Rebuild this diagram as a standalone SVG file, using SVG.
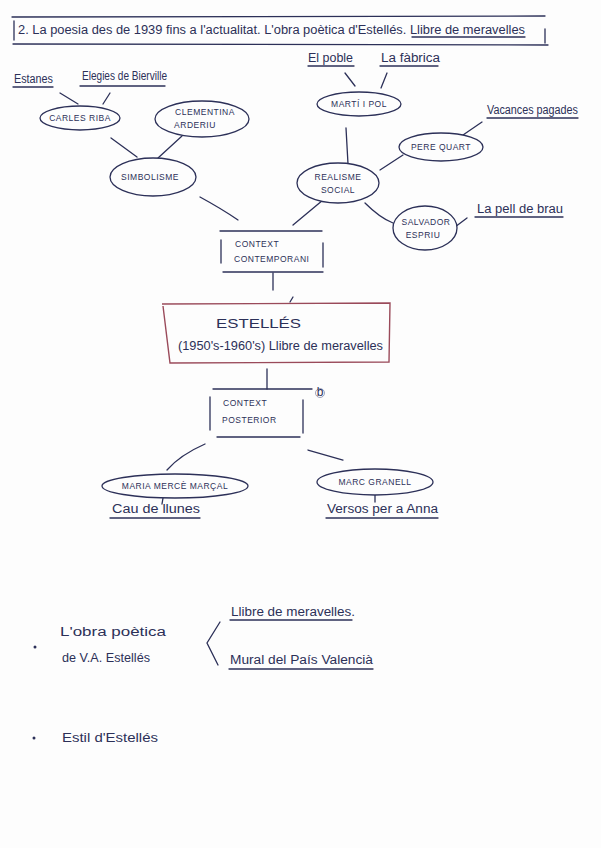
<svg xmlns="http://www.w3.org/2000/svg" width="601" height="848" viewBox="0 0 601 848">
<style>
.ink{fill:none;stroke:#2c3058;stroke-width:1.3;stroke-linecap:round}
.node{fill:#fdfdfd;stroke:#2c3058;stroke-width:1.3}
.t{fill:#2c3058;font-family:"Liberation Sans",Arial,sans-serif;font-size:12px}
.caps{fill:#2c3058;font-family:"Liberation Sans",Arial,sans-serif;font-size:8.5px;letter-spacing:0.5px}
.red{fill:none;stroke:#9a4a5a;stroke-width:1.4}
</style>
<rect width="601" height="848" fill="#fdfdfd"/>
<g id="title">
<line class="ink" x1="12" y1="17" x2="545" y2="16"/>
<line class="ink" x1="13" y1="44" x2="548" y2="45"/>
<line class="ink" x1="14" y1="21" x2="14" y2="40"/>
<line class="ink" x1="545" y1="29" x2="545" y2="43"/>
<text class="t" x="18" y="34" textLength="507" lengthAdjust="spacingAndGlyphs">2. La poesia des de 1939 fins a l'actualitat. L'obra poètica d'Estellés. Llibre de meravelles</text>
<line class="ink" x1="412" y1="37" x2="525" y2="37"/>
</g>
<g id="connectors">
<line class="ink" x1="60" y1="93" x2="78" y2="104"/>
<line class="ink" x1="110" y1="93" x2="103" y2="104"/>
<line class="ink" x1="111" y1="138" x2="137" y2="157"/>
<line class="ink" x1="182" y1="136" x2="158" y2="158"/>
<path class="ink" d="M200 197 Q222 209 238 220"/>
<line class="ink" x1="345" y1="73" x2="355" y2="86"/>
<line class="ink" x1="387" y1="73" x2="381" y2="88"/>
<line class="ink" x1="482" y1="122" x2="463" y2="135"/>
<line class="ink" x1="346" y1="128" x2="348" y2="164"/>
<line class="ink" x1="403" y1="155" x2="380" y2="170"/>
<path class="ink" d="M365 203 Q380 218 393 223"/>
<line class="ink" x1="455" y1="227" x2="467" y2="218"/>
<line class="ink" x1="323" y1="200" x2="293" y2="225"/>
<line class="ink" x1="273" y1="273" x2="273" y2="290"/>
<line class="ink" x1="290" y1="302" x2="293" y2="297"/>
<line class="ink" x1="267" y1="369" x2="267" y2="389"/>
<path class="ink" d="M205 444 Q180 455 167 470"/>
<line class="ink" x1="308" y1="450" x2="343" y2="460"/>
<line class="ink" x1="163" y1="498" x2="162" y2="504"/>
<line class="ink" x1="375" y1="495" x2="375" y2="502"/>
<polyline class="ink" points="220,622 207,643 218,665"/>
</g>
<g id="estanes"><text class="t" x="14" y="83" textLength="39" lengthAdjust="spacingAndGlyphs" font-size="11">Estanes</text><line class="ink" x1="13" y1="87" x2="53" y2="87"/></g>
<g id="elegies"><text class="t" x="82" y="80" textLength="85" lengthAdjust="spacingAndGlyphs" font-size="11">Elegies de Bierville</text><line class="ink" x1="80" y1="86" x2="165" y2="86"/></g>
<g id="carles-riba"><ellipse class="node" cx="80" cy="118" rx="40" ry="12"/><text class="caps" x="80" y="121" text-anchor="middle">CARLES RIBA</text></g>
<g id="clementina"><ellipse class="node" cx="202" cy="119" rx="47" ry="18"/><text class="caps" x="205" y="115" text-anchor="middle">CLEMENTINA</text><text class="caps" x="195" y="128" text-anchor="middle">ARDERIU</text></g>
<g id="simbolisme"><ellipse class="node" cx="153" cy="177" rx="43" ry="19"/><text class="caps" x="150" y="180" text-anchor="middle">SIMBOLISME</text></g>
<g id="el-poble"><text class="t" x="308" y="62" textLength="45" lengthAdjust="spacingAndGlyphs" font-size="11">El poble</text><line class="ink" x1="308" y1="66" x2="354" y2="66"/></g>
<g id="la-fabrica"><text class="t" x="381" y="62" textLength="59" lengthAdjust="spacingAndGlyphs" font-size="11">La fàbrica</text><line class="ink" x1="380" y1="66" x2="438" y2="66"/></g>
<g id="marti-i-pol"><ellipse class="node" cx="359" cy="104" rx="42" ry="12"/><text class="caps" x="359" y="107" text-anchor="middle">MARTÍ I POL</text></g>
<g id="vacances"><text class="t" x="487" y="114" textLength="91" lengthAdjust="spacingAndGlyphs" font-size="11">Vacances pagades</text><line class="ink" x1="487" y1="118" x2="578" y2="118"/></g>
<g id="pere-quart"><ellipse class="node" cx="441" cy="147" rx="42" ry="14"/><text class="caps" x="441" y="150" text-anchor="middle">PERE QUART</text></g>
<g id="realisme"><ellipse class="node" cx="338" cy="183" rx="41" ry="20"/><text class="caps" x="338" y="180" text-anchor="middle">REALISME</text><text class="caps" x="338" y="193" text-anchor="middle">SOCIAL</text></g>
<g id="salvador"><ellipse class="node" cx="425" cy="228" rx="32" ry="22"/><text class="caps" x="426" y="225" text-anchor="middle">SALVADOR</text><text class="caps" x="423" y="238" text-anchor="middle">ESPRIU</text></g>
<g id="pell"><text class="t" x="477" y="213" textLength="86" lengthAdjust="spacingAndGlyphs" font-size="11">La pell de brau</text><line class="ink" x1="475" y1="217" x2="563" y2="217"/></g>
<g id="context-contemporani">
<line class="ink" x1="220" y1="231" x2="322" y2="231"/>
<line class="ink" x1="223" y1="272" x2="323" y2="272"/>
<line class="ink" x1="221" y1="240" x2="221" y2="263"/>
<line class="ink" x1="323" y1="243" x2="323" y2="267"/>
<text class="caps" x="235" y="247">CONTEXT</text>
<text class="caps" x="234" y="262">CONTEMPORANI</text>
</g>
<g id="estelles">
<path class="red" d="M162 304 L390 303 L389 362 L170 363 L163 306"/>
<text class="t" x="216" y="328" font-size="19" textLength="85" lengthAdjust="spacingAndGlyphs">ESTELLÉS</text>
<text class="t" x="178" y="350" font-size="13" textLength="205" lengthAdjust="spacingAndGlyphs">(1950's-1960's) Llibre de meravelles</text>
</g>
<g id="context-posterior">
<line class="ink" x1="213" y1="389" x2="312" y2="389"/>
<line class="ink" x1="217" y1="437" x2="300" y2="437"/>
<line class="ink" x1="210" y1="397" x2="210" y2="430"/>
<line class="ink" x1="303" y1="400" x2="303" y2="433"/>
<text class="caps" x="223" y="406">CONTEXT</text>
<text class="caps" x="222" y="423">POSTERIOR</text>
<circle cx="320" cy="393" r="4.5" fill="none" stroke="#8a8ca8" stroke-width="0.8"/>
<text class="t" x="320" y="396" font-size="6" text-anchor="middle" fill="#8a8ca8">b</text>
</g>
<g id="marcal"><ellipse class="node" cx="175" cy="486" rx="73" ry="12"/><text class="caps" x="175" y="489" text-anchor="middle">MARIA MERCÈ MARÇAL</text></g>
<g id="granell"><ellipse class="node" cx="375" cy="482" rx="58" ry="13"/><text class="caps" x="375" y="485" text-anchor="middle">MARC GRANELL</text></g>
<g id="cau"><text class="t" x="112" y="513" textLength="88" lengthAdjust="spacingAndGlyphs">Cau de llunes</text><line class="ink" x1="110" y1="518" x2="200" y2="518"/></g>
<g id="versos"><text class="t" x="327" y="513" textLength="111" lengthAdjust="spacingAndGlyphs">Versos per a Anna</text><line class="ink" x1="326" y1="518" x2="438" y2="518"/></g>
<g id="obra">
<circle cx="35" cy="647" r="1.5" fill="#2c3058"/>
<text class="t" x="60" y="636" font-size="15" textLength="106" lengthAdjust="spacingAndGlyphs">L'obra poètica</text>
<text class="t" x="62" y="662" font-size="13" textLength="88" lengthAdjust="spacingAndGlyphs">de V.A. Estellés</text>
</g>
<g id="llibre"><text class="t" x="231" y="616" textLength="124" lengthAdjust="spacingAndGlyphs">Llibre de meravelles.</text><line class="ink" x1="230" y1="620" x2="352" y2="620"/></g>
<g id="mural"><text class="t" x="230" y="664" textLength="143" lengthAdjust="spacingAndGlyphs">Mural del País Valencià</text><line class="ink" x1="229" y1="669" x2="373" y2="669"/></g>
<g id="estil">
<circle cx="34" cy="738" r="1.5" fill="#2c3058"/>
<text class="t" x="62" y="742" font-size="13" textLength="96" lengthAdjust="spacingAndGlyphs">Estil d'Estellés</text>
</g>
</svg>
